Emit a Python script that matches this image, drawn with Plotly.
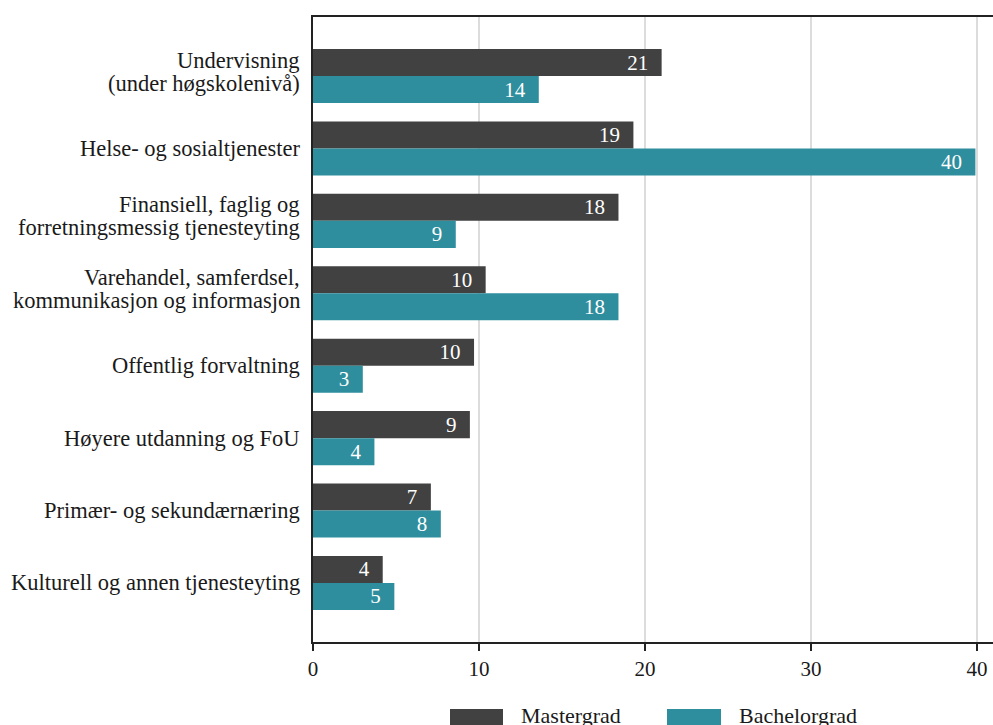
import plotly.graph_objects as go

categories = [
    "Undervisning<br>(under høgskolenivå)",
    "Helse- og sosialtjenester",
    "Finansiell, faglig og<br>forretningsmessig tjenesteyting",
    "Varehandel, samferdsel,<br>kommunikasjon og informasjon",
    "Offentlig forvaltning",
    "Høyere utdanning og FoU",
    "Primær- og sekundærnæring",
    "Kulturell og annen tjenesteyting",
]
mastergrad = [21.0, 19.3, 18.4, 10.4, 9.7, 9.45, 7.1, 4.2]
bachelorgrad = [13.6, 39.9, 8.6, 18.4, 3.0, 3.7, 7.7, 4.9]
series_names = ["Mastergrad", "Bachelorgrad"]
colors = ["#414141", "#2E8E9D"]
x_ticks = [0, 10, 20, 30, 40]

FONT = "Liberation Serif"
W, H = 993, 725
L, T, B, R = 313, 17, 83, 0
PW, PH = W - L - R, H - T - B

fig = go.Figure()
for name, vals, col in zip(series_names, [mastergrad, bachelorgrad], colors):
    fig.add_trace(go.Bar(
        y=categories, x=vals, name=name, orientation="h",
        marker=dict(color=col, line=dict(width=0)),
        texttemplate="%{x:.0f}\u00a0\u00a0", textposition="inside",
        insidetextanchor="end", textangle=0,
        textfont=dict(family=FONT, size=21, color="white"),
        constraintext="none", cliponaxis=False,
    ))

fig.update_layout(
    width=W, height=H,
    margin=dict(l=L, r=R, t=T, b=B, autoexpand=False),
    plot_bgcolor="white", paper_bgcolor="white",
    barmode="group", bargap=0.254, bargroupgap=0,
    showlegend=False,
    font=dict(family=FONT, color="#1a1a1a"),
)
fig.update_xaxes(
    range=[0, 40.96], tickvals=x_ticks, automargin=False,
    showgrid=True, gridcolor="#dcdcdc", gridwidth=2,
    showline=True, linecolor="#222222", linewidth=2, mirror=True,
    ticks="outside", ticklen=7, tickwidth=2, tickcolor="#222222",
    tickfont=dict(family=FONT, size=21, color="#1a1a1a"),
    zeroline=False, fixedrange=True,
)
fig.update_yaxes(
    type="category", range=[7.815, -0.815], automargin=False,
    showgrid=False, showline=True, linecolor="#222222", linewidth=2,
    ticks="", showticklabels=False, zeroline=False,
)

# Category labels (one annotation per text line for tight line spacing)
for cat in categories:
    lines = cat.split("<br>")
    shifts = [0] if len(lines) == 1 else [16, -7]
    for line, s in zip(lines, shifts):
        fig.add_annotation(xref="paper", yref="y", x=0, y=cat, text=line,
                           showarrow=False, xanchor="right", yanchor="middle",
                           xshift=-11, yshift=s,
                           font=dict(family=FONT, size=22.5, color="#1a1a1a"))

# Legend drawn below the plot
def px_x(p):
    return (p - L) / PW

def px_y(p):
    return (T + PH - p) / PH

legend_items = [(450, 503, 519), (667, 721, 737)]
for (x0, x1, tx), name, col in zip(legend_items, series_names, colors):
    fig.add_shape(type="rect", xref="paper", yref="paper",
                  x0=px_x(x0), x1=px_x(x1), y0=px_y(709), y1=px_y(735),
                  fillcolor=col, line=dict(width=0), layer="above")
    fig.add_annotation(xref="paper", yref="paper", x=px_x(tx), y=px_y(715),
                       text=name, showarrow=False, xanchor="left", yanchor="middle",
                       font=dict(family=FONT, size=22, color="#1a1a1a"))

fig.write_html(
    "out.html",
    config={"displayModeBar": False},
    post_script="document.body.style.margin='0';document.body.style.overflow='hidden';",
)
